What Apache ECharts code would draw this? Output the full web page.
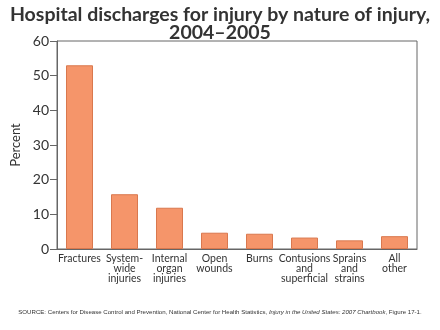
<!DOCTYPE html>
<html><head><meta charset="utf-8">
<script src="https://cdn.jsdelivr.net/npm/echarts@6/dist/echarts.min.js"></script>
<style>html,body{margin:0;padding:0;background:#fff}#c{width:440px;height:330px}</style>
</head><body><div id="c"></div>
<script>
const categories = ["Fractures", "System-\nwide\ninjuries", "Internal\norgan\ninjuries", "Open\nwounds", "Burns", "Contusions\nand\nsuperficial", "Sprains\nand\nstrains", "All\nother"];
const values = [53, 15.8, 11.9, 4.7, 4.4, 3.3, 2.5, 3.7];
const yTicks = [0, 10, 20, 30, 40, 50, 60];
const titleText = "Hospital discharges for injury by nature of injury,\n2004\u20132005";
const yName = "Percent";

const chart = echarts.init(document.getElementById('c'), null, {renderer: 'canvas'});
chart.setOption({
  animation: false,
  backgroundColor: '#fff',
  title: {
    text: titleText, left: 'center', top: 1,
    textStyle: {fontFamily: 'Lato', fontWeight: 'bold', fontSize: 19.5, color: '#333', lineHeight: 18}
  },
  grid: {left: 57, right: 23, top: 41, bottom: 81, show: true, borderColor: '#666', borderWidth: 1},
  xAxis: {
    type: 'category', data: categories,
    axisTick: {show: false},
    axisLine: {lineStyle: {color: '#666'}},
    axisLabel: {interval: 0, color: '#333', fontFamily: 'Lato', fontSize: 10.5, lineHeight: 10, margin: 5}
  },
  yAxis: {
    type: 'value', min: yTicks[0], max: yTicks[yTicks.length-1], interval: 10,
    name: yName, nameLocation: 'middle', nameGap: 33,
    nameTextStyle: {fontFamily: 'Lato', fontSize: 13, color: '#333'},
    axisLine: {show: true, lineStyle: {color: '#666'}},
    axisTick: {show: true, length: 7, lineStyle: {color: '#666'}},
    splitLine: {show: false},
    axisLabel: {color: '#333', fontFamily: 'Lato', fontSize: 14, margin: 8}
  },
  series: [{
    type: 'bar', data: values, barWidth: '60%',
    itemStyle: {color: '#F5956A', borderColor: '#D9784E', borderWidth: 1}
  }],
  graphic: [{
    type: 'text', left: 'center', top: 309,
    style: {
      text: '{n|SOURCE: Centers for Disease Control and Prevention, National Center for Health Statistics, }{i|Injury in the United States: 2007 Chartbook}{n|, Figure 17-1.}',
      rich: {
        n: {fontFamily: 'Liberation Sans', fontSize: 6.1, fill: '#333'},
        i: {fontFamily: 'Liberation Sans', fontSize: 6.1, fontStyle: 'italic', fill: '#333'}
      }
    }
  }]
});
</script></body></html>
